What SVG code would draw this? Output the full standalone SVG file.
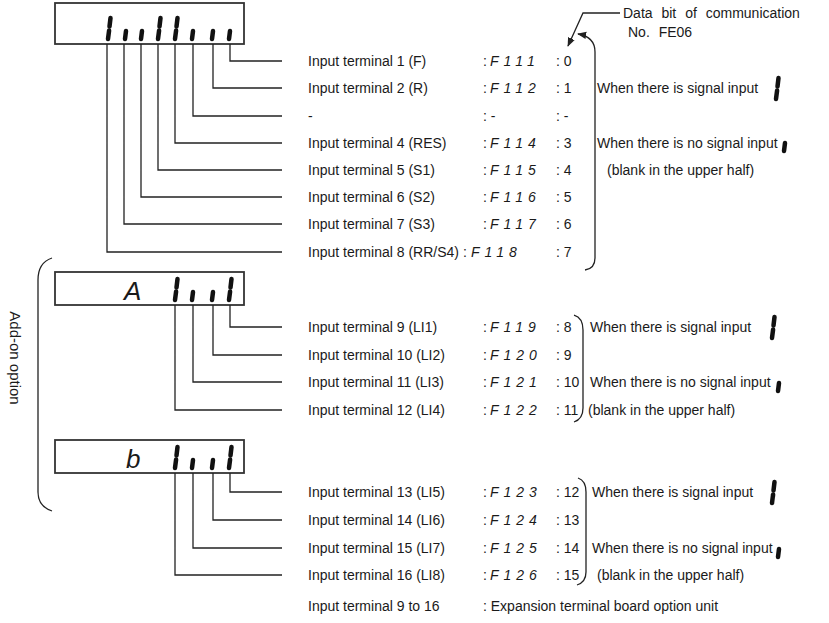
<svg xmlns="http://www.w3.org/2000/svg" width="829" height="623" viewBox="0 0 829 623">
<style>
text{font-family:"Liberation Sans",Arial,sans-serif;font-size:14px;fill:#1a1a1a}
.code{font-style:italic;letter-spacing:5px}
.ws{word-spacing:5px}
.box{fill:#fff;stroke:#333;stroke-width:1.8}
.seg{stroke:#111;stroke-width:4.5;stroke-linecap:round}
.ln{fill:none;stroke:#222;stroke-width:1.3}
.disp{font-style:italic;font-size:26px}
</style>
<defs>
<g id="tall"><line class="seg" x1="2.5" y1="-22" x2="1.5" y2="-13.5"/><line class="seg" x1="1.1" y1="-9.5" x2="0" y2="-1"/></g>
<g id="short"><line class="seg" x1="1" y1="-9" x2="0" y2="-1"/></g>
<marker id="ah" viewBox="0 0 10 10" refX="9" refY="5" markerWidth="7" markerHeight="7" orient="auto"><path d="M0,1 L10,5 L0,9 Z" fill="#222"/></marker>
</defs>

<g id="display1">
<rect class="box" x="55" y="3" width="189" height="41"/>
<use href="#tall" x="108" y="40"/><use href="#short" x="125" y="40"/><use href="#short" x="141" y="40"/>
<use href="#tall" x="158" y="40"/><use href="#tall" x="175" y="40"/><use href="#short" x="192" y="40"/>
<use href="#short" x="212" y="40"/><use href="#short" x="229" y="40"/>
</g>
<g id="display2">
<rect class="box" x="55" y="272" width="189" height="33"/>
<text class="disp" x="124" y="300">A</text>
<use href="#tall" x="175" y="301"/><use href="#short" x="192" y="301"/><use href="#short" x="212" y="301"/><use href="#tall" x="229" y="301"/>
</g>
<g id="display3">
<rect class="box" x="55" y="440" width="189" height="33"/>
<text class="disp" x="126" y="468">b</text>
<use href="#tall" x="175" y="469"/><use href="#short" x="192" y="469"/><use href="#short" x="212" y="469"/><use href="#tall" x="229" y="469"/>
</g>

<g id="connectors">
<path class="ln" d="M230,44V61H282 M213,44V88H282 M193,44V116H282 M175,44V143H282 M158,44V170H282 M141,44V197H282 M124,44V224H282 M107,44V252H282"/>
<path class="ln" d="M230,305V327H282 M213,305V355H282 M193,305V382H282 M175,305V410H282"/>
<path class="ln" d="M230,473V492H282 M213,473V520H282 M193,473V548H282 M175,473V575H282"/>
<path class="ln" d="M585,270C592,269 595,265 595,258V52C595,42 590,36 578,34" marker-end="url(#ah)"/>
<path class="ln" d="M574,315C581,317 583,322 583,330V408C583,416 580,420 574,422"/>
<path class="ln" d="M578,478C584,480 586,485 586,492V572C586,579 583,583 577,585"/>
<path class="ln" d="M52,258C43,261 38,268 38,280V492C38,502 43,508 52,511"/>
<path class="ln" d="M620,13H583L568,46" marker-end="url(#ah)"/>
</g>

<g id="rows1">
<text x="308" y="66">Input terminal 1 (F)</text><text x="483" y="66">:</text><text class="code" x="490" y="66">F111</text><text x="556" y="66">: 0</text>
<text x="308" y="93">Input terminal 2 (R)</text><text x="483" y="93">:</text><text class="code" x="490" y="93">F112</text><text x="556" y="93">: 1</text>
<text x="308" y="121">-</text><text x="483" y="121">: -</text><text x="556" y="121">: -</text>
<text x="308" y="148">Input terminal 4 (RES)</text><text x="483" y="148">:</text><text class="code" x="490" y="148">F114</text><text x="556" y="148">: 3</text>
<text x="308" y="175">Input terminal 5 (S1)</text><text x="483" y="175">:</text><text class="code" x="490" y="175">F115</text><text x="556" y="175">: 4</text>
<text x="308" y="202">Input terminal 6 (S2)</text><text x="483" y="202">:</text><text class="code" x="490" y="202">F116</text><text x="556" y="202">: 5</text>
<text x="308" y="229">Input terminal 7 (S3)</text><text x="483" y="229">:</text><text class="code" x="490" y="229">F117</text><text x="556" y="229">: 6</text>
<text x="308" y="257">Input terminal 8 (RR/S4)</text><text x="463" y="257">:</text><text class="code" x="471" y="257">F118</text><text x="556" y="257">: 7</text>
</g>
<g id="rows2">
<text x="308" y="332">Input terminal 9 (LI1)</text><text x="483" y="332">:</text><text class="code" x="490" y="332">F119</text><text x="556" y="332">: 8</text>
<text x="308" y="360">Input terminal 10 (LI2)</text><text x="483" y="360">:</text><text class="code" x="490" y="360">F120</text><text x="556" y="360">: 9</text>
<text x="308" y="387">Input terminal 11 (LI3)</text><text x="483" y="387">:</text><text class="code" x="490" y="387">F121</text><text x="556" y="387">: 10</text>
<text x="308" y="415">Input terminal 12 (LI4)</text><text x="483" y="415">:</text><text class="code" x="490" y="415">F122</text><text x="556" y="415">: 11</text>
</g>
<g id="rows3">
<text x="308" y="497">Input terminal 13 (LI5)</text><text x="483" y="497">:</text><text class="code" x="490" y="497">F123</text><text x="556" y="497">: 12</text>
<text x="308" y="525">Input terminal 14 (LI6)</text><text x="483" y="525">:</text><text class="code" x="490" y="525">F124</text><text x="556" y="525">: 13</text>
<text x="308" y="553">Input terminal 15 (LI7)</text><text x="483" y="553">:</text><text class="code" x="490" y="553">F125</text><text x="556" y="553">: 14</text>
<text x="308" y="580">Input terminal 16 (LI8)</text><text x="483" y="580">:</text><text class="code" x="490" y="580">F126</text><text x="556" y="580">: 15</text>
</g>

<g id="legend1">
<text class="ws" x="623" y="18">Data bit of communication</text>
<text class="ws" x="628" y="37">No. FE06</text>
<text x="597" y="93">When there is signal input</text><use href="#tall" x="776" y="100"/>
<text x="597" y="148">When there is no signal input</text><use href="#short" x="784" y="152"/>
<text x="607" y="175">(blank in the upper half)</text>
</g>
<g id="legend2">
<text x="590" y="332">When there is signal input</text><use href="#tall" x="772" y="339"/>
<text x="590" y="387">When there is no signal input</text><use href="#short" x="778" y="392"/>
<text x="588" y="415">(blank in the upper half)</text>
</g>
<g id="legend3">
<text x="592" y="497">When there is signal input</text><use href="#tall" x="772" y="504"/>
<text x="592" y="553">When there is no signal input</text><use href="#short" x="778" y="558"/>
<text x="597" y="580">(blank in the upper half)</text>
</g>
<text transform="translate(10,358) rotate(90)" text-anchor="middle" style="font-size:15px">Add-on option</text>
<text x="308" y="611">Input terminal 9 to 16</text><text x="483" y="611">: Expansion terminal board option unit</text>
</svg>
